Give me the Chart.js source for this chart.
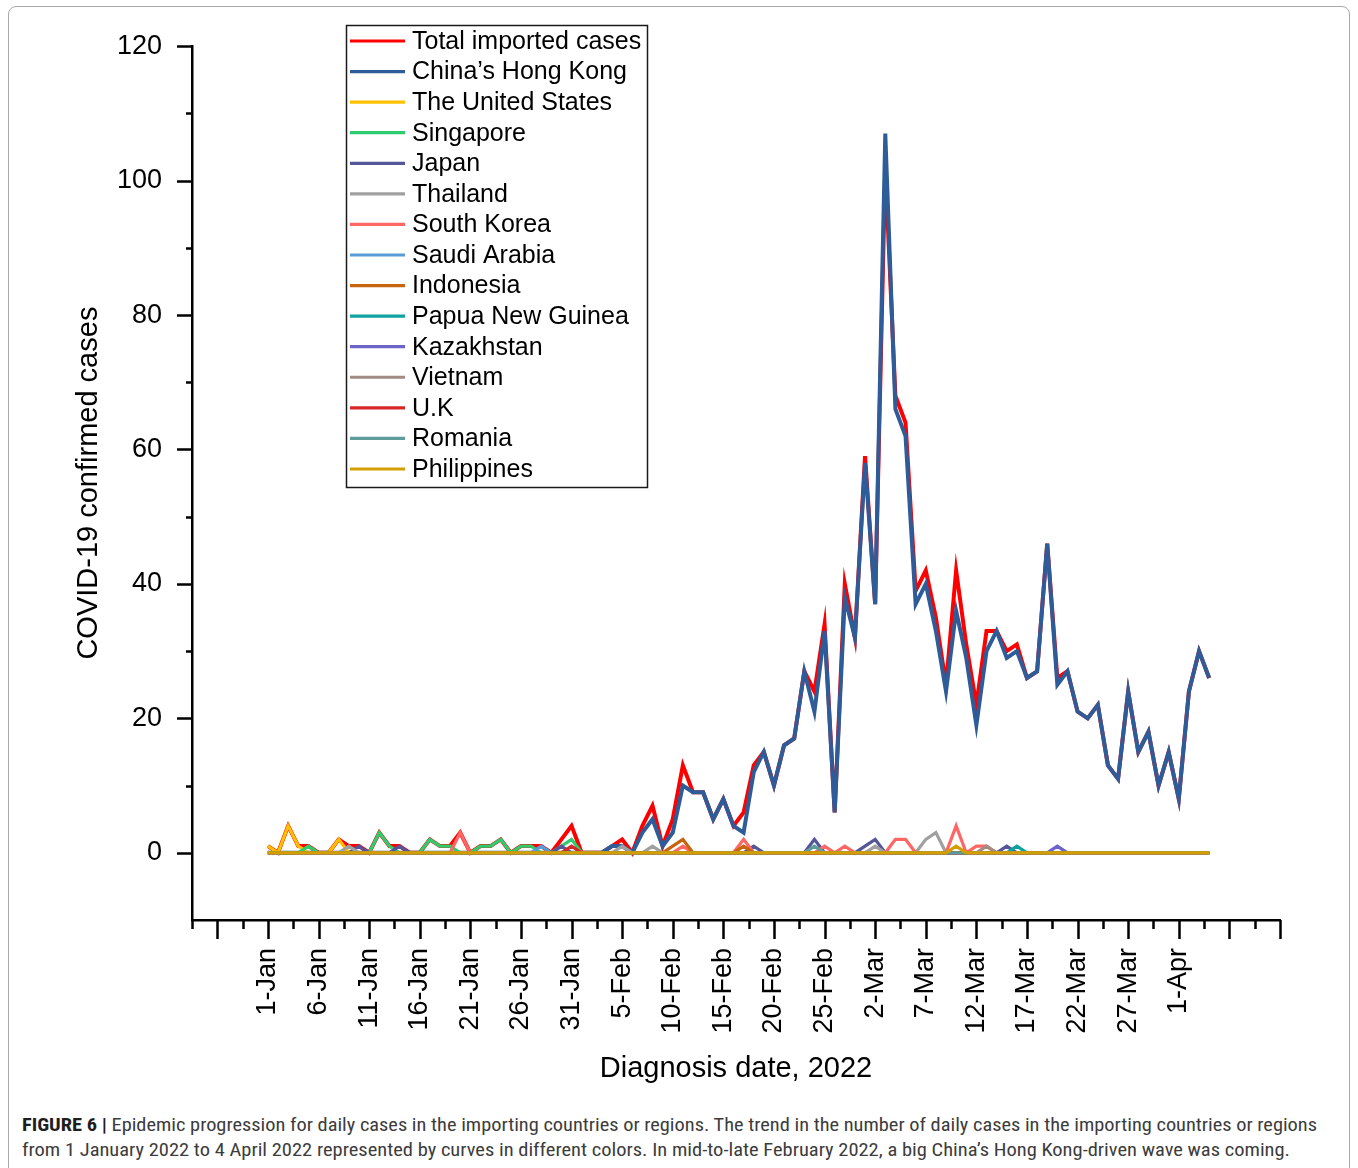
<!DOCTYPE html>
<html>
<head>
<meta charset="utf-8">
<title>Imported COVID-19 cases by origin, 2022</title>
<script src="https://cdn.jsdelivr.net/npm/chart.js@4.4.1/dist/chart.umd.min.js"></script>
<style>
  html, body { margin: 0; padding: 0; background: #fff; }
  body { width: 1358px; height: 1168px; position: relative; overflow: hidden;
         font-family: "Liberation Sans", Arial, sans-serif; }
  #frame { position: absolute; left: 8px; top: 6px; width: 1342px; height: 1190px;
           border: 1.5px solid #a9a9a9; border-radius: 8px; box-sizing: border-box; }
  #wrap { position: absolute; left: 0; top: 0; width: 1358px; height: 1090px; }
  .cap { position: absolute; left: 22px; white-space: nowrap; line-height: 1;
         font-family: "Roboto Condensed", "Liberation Sans", Arial, sans-serif;
         font-size: 18px; color: #3c3c3c; transform-origin: 0 50%; }
  .cap b { color: #1e1e1e; }
</style>
</head>
<body>
<div id="frame"></div>
<div id="wrap"><canvas id="chart" width="1358" height="1090"></canvas></div>
<div class="cap" id="cap1" data-w="1295" style="top:1116px"><b>FIGURE 6 |</b> Epidemic progression for daily cases in the importing countries or regions. The trend in the number of daily cases in the importing countries or regions</div>
<div class="cap" id="cap2" data-w="1268" style="top:1141px">from 1 January 2022 to 4 April 2022 represented by curves in different colors. In mid-to-late February 2022, a big China’s Hong Kong-driven wave was coming.</div>

<script>
// Daily imported cases, one value per day from 1 January (index 0) to 4 April 2022 (index 93).
const tickLabels = ['1-Jan', '6-Jan', '11-Jan', '16-Jan', '21-Jan', '26-Jan', '31-Jan',
  '5-Feb', '10-Feb', '15-Feb', '20-Feb', '25-Feb', '2-Mar', '7-Mar', '12-Mar',
  '17-Mar', '22-Mar', '27-Mar', '1-Apr'];

const seriesNames = ['Total imported cases', 'China’s Hong Kong', 'The United States', 'Singapore',
  'Japan', 'Thailand', 'South Korea', 'Saudi Arabia', 'Indonesia', 'Papua New Guinea',
  'Kazakhstan', 'Vietnam', 'U.K', 'Romania', 'Philippines'];

const seriesColors = ['#ff0000', '#2e5c99', '#ffc000', '#2ecc6e', '#555599', '#a0a0a0',
  '#ff6666', '#5b9bd5', '#c8640f', '#10a29f', '#6b63c8', '#a08c80', '#d62828', '#5e9c9a', '#d39e00'];

const totalImported = [
  1, 0, 4, 1, 1, 0, 0, 2, 1, 1,
  0, 3, 1, 1, 0, 0, 2, 1, 1, 3,
  0, 1, 1, 2, 0, 1, 1, 1, 0, 2,
  4, 0, 0, 0, 1, 2, 0, 4, 7, 1,
  5, 13, 9, 9, 5, 8, 4, 6, 13, 15,
  10, 16, 17, 27, 24, 34, 6, 40, 32, 59,
  37, 102, 68, 64, 39, 42, 35, 25, 42, 31,
  22, 33, 33, 30, 31, 26, 27, 46, 26, 27,
  21, 20, 22, 13, 11, 24, 15, 18, 10, 15,
  8, 24, 30, 26];

const hongKong = [
  0, 0, 0, 0, 0, 0, 0, 0, 0, 0,
  0, 0, 0, 0, 0, 0, 0, 0, 0, 0,
  0, 0, 0, 0, 0, 0, 0, 0, 0, 0,
  0, 0, 0, 0, 1, 1, 0, 3, 5, 1,
  3, 10, 9, 9, 5, 8, 4, 3, 12, 15,
  10, 16, 17, 27, 21, 33, 6, 38, 32, 58,
  37, 107, 66, 62, 37, 40, 33, 24, 36, 29,
  19, 30, 33, 29, 30, 26, 27, 46, 25, 27,
  21, 20, 22, 13, 11, 24, 15, 18, 10, 15,
  8, 24, 30, 26];

const unitedStates = [
  1, 0, 4, 1, 0, 0, 0, 2, 0, 0,
  0, 0, 0, 0, 0, 0, 0, 0, 0, 0,
  0, 0, 0, 0, 0, 0, 0, 0, 0, 0,
  0, 0, 0, 0, 0, 0, 0, 0, 0, 0,
  0, 0, 0, 0, 0, 0, 0, 0, 0, 0,
  0, 0, 0, 0, 0, 0, 0, 0, 0, 0,
  0, 0, 0, 0, 0, 0, 0, 0, 0, 0,
  0, 0, 0, 0, 0, 0, 0, 0, 0, 0,
  0, 0, 0, 0, 0, 0, 0, 0, 0, 0,
  0, 0, 0, 0];

const singapore = [
  0, 0, 0, 0, 1, 0, 0, 0, 0, 0,
  0, 3, 1, 0, 0, 0, 2, 1, 1, 0,
  0, 1, 1, 2, 0, 1, 1, 0, 0, 1,
  2, 0, 0, 0, 0, 0, 0, 0, 0, 0,
  0, 0, 0, 0, 0, 0, 0, 0, 0, 0,
  0, 0, 0, 0, 0, 0, 0, 0, 0, 0,
  0, 0, 0, 0, 0, 0, 0, 0, 0, 0,
  0, 0, 0, 0, 0, 0, 0, 0, 0, 0,
  0, 0, 0, 0, 0, 0, 0, 0, 0, 0,
  0, 0, 0, 0];

const japan = [
  0, 0, 0, 0, 0, 0, 0, 0, 0, 1,
  0, 0, 0, 1, 0, 0, 0, 0, 0, 0,
  0, 0, 0, 0, 0, 0, 0, 0, 0, 1,
  0, 0, 0, 0, 0, 0, 0, 0, 0, 0,
  0, 0, 0, 0, 0, 0, 0, 0, 1, 0,
  0, 0, 0, 0, 2, 0, 0, 0, 0, 1,
  2, 0, 0, 0, 0, 0, 0, 0, 0, 0,
  0, 0, 0, 1, 0, 0, 0, 0, 0, 0,
  0, 0, 0, 0, 0, 0, 0, 0, 0, 0,
  0, 0, 0, 0];

const thailand = [
  0, 0, 0, 0, 0, 0, 0, 0, 1, 0,
  0, 0, 0, 0, 0, 0, 0, 0, 0, 0,
  0, 0, 0, 0, 0, 0, 0, 0, 0, 0,
  0, 0, 0, 0, 0, 1, 0, 0, 1, 0,
  0, 0, 0, 0, 0, 0, 0, 0, 0, 0,
  0, 0, 0, 0, 0, 0, 0, 0, 0, 0,
  1, 0, 0, 0, 0, 2, 3, 0, 0, 0,
  0, 0, 0, 0, 0, 0, 0, 0, 0, 0,
  0, 0, 0, 0, 0, 0, 0, 0, 0, 0,
  0, 0, 0, 0];

const southKorea = [
  0, 0, 0, 0, 0, 0, 0, 0, 0, 0,
  0, 0, 0, 0, 0, 0, 0, 0, 0, 3,
  0, 0, 0, 0, 0, 0, 0, 0, 0, 0,
  0, 0, 0, 0, 0, 0, 0, 0, 0, 0,
  0, 1, 0, 0, 0, 0, 0, 2, 0, 0,
  0, 0, 0, 0, 0, 1, 0, 1, 0, 0,
  0, 0, 2, 2, 0, 0, 0, 0, 4, 0,
  1, 1, 0, 0, 0, 0, 0, 0, 0, 0,
  0, 0, 0, 0, 0, 0, 0, 0, 0, 0,
  0, 0, 0, 0];

const saudiArabia = [
  0, 0, 0, 0, 0, 0, 0, 0, 0, 0,
  0, 0, 0, 0, 0, 0, 0, 0, 0, 0,
  0, 0, 0, 0, 0, 0, 0, 1, 0, 0,
  0, 0, 0, 0, 0, 0, 0, 0, 0, 0,
  0, 0, 0, 0, 0, 0, 0, 0, 0, 0,
  0, 0, 0, 0, 0, 0, 0, 0, 0, 0,
  0, 0, 0, 0, 0, 0, 0, 0, 0, 0,
  0, 0, 0, 0, 0, 0, 0, 0, 0, 0,
  0, 0, 0, 0, 0, 0, 0, 0, 0, 0,
  0, 0, 0, 0];

const indonesia = [
  0, 0, 0, 0, 0, 0, 0, 0, 0, 0,
  0, 0, 0, 0, 0, 0, 0, 0, 0, 0,
  0, 0, 0, 0, 0, 0, 0, 0, 0, 0,
  0, 0, 0, 0, 0, 0, 0, 0, 0, 0,
  1, 2, 0, 0, 0, 0, 0, 1, 0, 0,
  0, 0, 0, 0, 0, 0, 0, 0, 0, 0,
  0, 0, 0, 0, 0, 0, 0, 0, 0, 0,
  0, 0, 0, 0, 0, 0, 0, 0, 0, 0,
  0, 0, 0, 0, 0, 0, 0, 0, 0, 0,
  0, 0, 0, 0];

const papuaNewGuinea = [
  0, 0, 0, 0, 0, 0, 0, 0, 0, 0,
  0, 0, 0, 0, 0, 0, 0, 0, 0, 0,
  0, 0, 0, 0, 0, 0, 0, 0, 0, 0,
  0, 0, 0, 0, 0, 0, 0, 0, 0, 0,
  0, 0, 0, 0, 0, 0, 0, 0, 0, 0,
  0, 0, 0, 0, 0, 0, 0, 0, 0, 0,
  0, 0, 0, 0, 0, 0, 0, 0, 0, 0,
  0, 0, 0, 0, 1, 0, 0, 0, 0, 0,
  0, 0, 0, 0, 0, 0, 0, 0, 0, 0,
  0, 0, 0, 0];

const kazakhstan = [
  0, 0, 0, 0, 0, 0, 0, 0, 0, 0,
  0, 0, 0, 0, 0, 0, 0, 0, 0, 0,
  0, 0, 0, 0, 0, 0, 0, 0, 0, 0,
  0, 0, 0, 0, 0, 0, 0, 0, 0, 0,
  0, 0, 0, 0, 0, 0, 0, 0, 0, 0,
  0, 0, 0, 0, 0, 0, 0, 0, 0, 0,
  0, 0, 0, 0, 0, 0, 0, 0, 0, 0,
  0, 0, 0, 0, 0, 0, 0, 0, 1, 0,
  0, 0, 0, 0, 0, 0, 0, 0, 0, 0,
  0, 0, 0, 0];

const vietnam = [
  0, 0, 0, 0, 0, 0, 0, 0, 0, 0,
  0, 0, 0, 0, 0, 0, 0, 0, 0, 0,
  0, 0, 0, 0, 0, 0, 0, 0, 0, 0,
  0, 0, 0, 0, 0, 0, 0, 0, 0, 0,
  0, 0, 0, 0, 0, 0, 0, 0, 0, 0,
  0, 0, 0, 0, 0, 0, 0, 0, 0, 0,
  0, 0, 0, 0, 0, 0, 0, 0, 0, 0,
  0, 1, 0, 0, 0, 0, 0, 0, 0, 0,
  0, 0, 0, 0, 0, 0, 0, 0, 0, 0,
  0, 0, 0, 0];

const unitedKingdom = [
  0, 0, 0, 0, 0, 0, 0, 0, 0, 0,
  0, 0, 0, 0, 0, 0, 0, 0, 0, 0,
  0, 0, 0, 0, 0, 0, 0, 0, 0, 0,
  1, 0, 0, 0, 0, 0, 0, 0, 0, 0,
  0, 0, 0, 0, 0, 0, 0, 0, 0, 0,
  0, 0, 0, 0, 0, 0, 0, 0, 0, 0,
  0, 0, 0, 0, 0, 0, 0, 0, 0, 0,
  0, 0, 0, 0, 0, 0, 0, 0, 0, 0,
  0, 0, 0, 0, 0, 0, 0, 0, 0, 0,
  0, 0, 0, 0];

const romania = [
  0, 0, 0, 0, 0, 0, 0, 0, 0, 0,
  0, 0, 0, 0, 0, 0, 0, 0, 0, 0,
  0, 0, 0, 0, 0, 0, 0, 0, 0, 0,
  0, 0, 0, 0, 0, 0, 0, 0, 0, 0,
  0, 0, 0, 0, 0, 0, 0, 0, 0, 0,
  0, 0, 0, 0, 1, 0, 0, 0, 0, 0,
  0, 0, 0, 0, 0, 0, 0, 0, 0, 0,
  0, 0, 0, 0, 0, 0, 0, 0, 0, 0,
  0, 0, 0, 0, 0, 0, 0, 0, 0, 0,
  0, 0, 0, 0];

const philippines = [
  0, 0, 0, 0, 0, 0, 0, 0, 0, 0,
  0, 0, 0, 0, 0, 0, 0, 0, 0, 0,
  0, 0, 0, 0, 0, 0, 0, 0, 0, 0,
  0, 0, 0, 0, 0, 0, 0, 0, 0, 0,
  0, 0, 0, 0, 0, 0, 0, 0, 0, 0,
  0, 0, 0, 0, 0, 0, 0, 0, 0, 0,
  0, 0, 0, 0, 0, 0, 0, 0, 1, 0,
  0, 0, 0, 0, 0, 0, 0, 0, 0, 0,
  0, 0, 0, 0, 0, 0, 0, 0, 0, 0,
  0, 0, 0, 0];

const seriesValues = [totalImported, hongKong, unitedStates, singapore, japan, thailand,
  southKorea, saudiArabia, indonesia, papuaNewGuinea, kazakhstan, vietnam,
  unitedKingdom, romania, philippines];

const FONT = '"Liberation Sans", Arial, sans-serif';

// Later series are painted over earlier ones (Philippines on top, Total at the bottom).
const datasets = seriesNames.map((name, i) => ({
  label: name,
  data: seriesValues[i].map((v, day) => ({ x: day, y: v })),
  borderColor: seriesColors[i],
  backgroundColor: seriesColors[i],
  borderWidth: i < 2 ? 4 : 3.2,
  pointRadius: 0,
  tension: 0,
  fill: false,
  order: seriesNames.length - i
}));

// Outward tick marks: long at labelled steps, short in between.
const axisTicks = {
  id: 'axisTicks',
  afterDraw(chart) {
    const { ctx, chartArea: a, scales: { x, y } } = chart;
    ctx.save();
    ctx.strokeStyle = '#000';
    ctx.lineWidth = 2.5;
    ctx.lineCap = 'butt';
    ctx.beginPath();
    x.ticks.forEach(t => {
      const px = Math.round(x.getPixelForValue(t.value)) + 0.5;
      const major = Math.abs(t.value % 5) < 1e-6;
      ctx.moveTo(px, a.bottom);
      ctx.lineTo(px, a.bottom + (major ? 19 : 9));
    });
    y.ticks.forEach(t => {
      if (t.value < 0) return;
      const py = Math.round(y.getPixelForValue(t.value)) + 0.5;
      const major = t.value % 20 === 0;
      ctx.moveTo(a.left, py);
      ctx.lineTo(a.left - (major ? 15 : 6), py);
    });
    ctx.stroke();
    ctx.restore();
  }
};

// Boxed legend in the upper part of the plot.
const legendBox = {
  id: 'legendBox',
  afterDatasetsDraw(chart) {
    const ctx = chart.ctx;
    const box = { left: 346, top: 25, width: 301, height: 462 };
    const rowStart = 41, rowStep = 30.57;
    ctx.save();
    ctx.fillStyle = '#fff';
    ctx.fillRect(box.left, box.top, box.width, box.height);
    ctx.strokeStyle = '#1a1a1a';
    ctx.lineWidth = 1.5;
    ctx.strokeRect(box.left + 0.5, box.top + 0.5, box.width, box.height);
    ctx.font = '25px ' + FONT;
    ctx.textBaseline = 'middle';
    ctx.textAlign = 'left';
    chart.data.datasets.forEach((ds, i) => {
      const yy = rowStart + i * rowStep;
      ctx.strokeStyle = ds.borderColor;
      ctx.lineWidth = 3.2;
      ctx.beginPath();
      ctx.moveTo(350, yy);
      ctx.lineTo(405, yy);
      ctx.stroke();
      ctx.fillStyle = '#000';
      ctx.fillText(ds.label, 412, yy + 1);
    });
    ctx.restore();
  }
};

new Chart(document.getElementById('chart'), {
  type: 'line',
  data: { datasets },
  options: {
    responsive: false,
    animation: false,
    devicePixelRatio: 1,
    layout: { padding: { left: 0, right: 78, top: 42, bottom: 0 } },
    plugins: { legend: { display: false }, tooltip: { enabled: false } },
    scales: {
      x: {
        type: 'linear',
        min: -7.5,
        max: 100,
        afterFit(scale) { scale.height = 170; },
        grid: { display: false, drawTicks: false },
        border: { display: true, color: '#000', width: 2.5 },
        ticks: {
          stepSize: 2.5,
          autoSkip: false,
          minRotation: 90,
          maxRotation: 90,
          padding: 28,
          color: '#000',
          font: { family: FONT, size: 27 },
          callback(value) {
            const k = value / 5;
            if (Math.abs(k - Math.round(k)) > 1e-6) return '';
            return tickLabels[Math.round(k)] || '';
          }
        },
        title: {
          display: true,
          text: 'Diagnosis date, 2022',
          color: '#000',
          font: { family: FONT, size: 29 },
          padding: { top: 0, bottom: 4 }
        }
      },
      y: {
        min: -10,
        max: 120,
        afterFit(scale) { scale.width = 192; },
        grid: { display: false, drawTicks: false },
        border: { display: true, color: '#000', width: 2.5 },
        ticks: {
          stepSize: 10,
          padding: 30,
          color: '#000',
          font: { family: FONT, size: 27 },
          callback(value) { return value % 20 === 0 ? String(value) : ''; }
        },
        title: {
          display: true,
          text: 'COVID-19 confirmed cases',
          color: '#000',
          font: { family: FONT, size: 29 },
          padding: { top: 72, bottom: 0 }
        }
      }
    }
  },
  plugins: [axisTicks, legendBox]
});

// Stretch each caption line to its column width.
document.querySelectorAll('.cap').forEach(el => {
  const w = el.getBoundingClientRect().width;
  el.style.transform = 'scaleX(' + (Number(el.dataset.w) / w) + ')';
});
</script>
</body>
</html>
